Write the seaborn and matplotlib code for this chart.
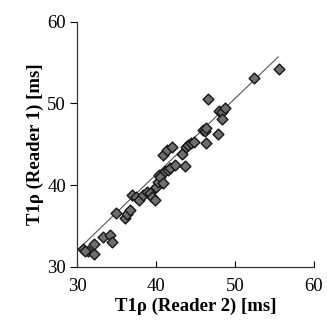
import matplotlib
matplotlib.use("Agg")
import matplotlib.pyplot as plt
import seaborn as sns
import numpy as np
import pandas as pd

# T1rho values [ms]
reader2 = [30.7, 31.4, 32.2, 32.1, 31.0, 33.3, 34.2, 34.4, 34.9, 36.1, 36.3, 36.7,
           37.0, 37.5, 37.8, 38.4, 38.9, 39.2, 39.5, 39.9, 40.0, 40.3, 40.4, 40.5,
           40.9, 41.1, 41.5, 41.8, 42.4, 40.9, 41.4, 42.0, 43.3, 43.7, 43.8, 44.0,
           44.4, 44.8, 46.0, 46.2, 46.3, 46.3, 46.6, 47.8, 48.0, 48.3, 48.4, 48.7,
           52.4, 55.6]
reader1 = [32.2, 31.9, 31.6, 32.8, 32.0, 33.6, 33.9, 33.0, 36.6, 36.0, 36.5, 36.9,
           38.8, 38.5, 38.2, 38.8, 39.2, 39.0, 38.6, 38.2, 39.8, 40.4, 41.3, 41.0,
           40.3, 41.7, 41.9, 42.1, 42.5, 43.7, 44.3, 44.7, 43.8, 42.4, 44.7, 44.9,
           45.1, 45.3, 46.8, 46.6, 47.0, 45.1, 50.5, 46.3, 49.1, 49.0, 48.1, 49.4,
           53.1, 54.2]

# fitted line endpoints
fit_x = [30.0, 55.5]
fit_y = [32.0, 55.7]

df = pd.DataFrame({"r2": reader2, "r1": reader1})

sns.set_style("ticks")
plt.rcParams["font.family"] = ["Liberation Serif", "DejaVu Serif"]
plt.rcParams["text.color"] = "black"
plt.rcParams["axes.labelcolor"] = "black"
plt.rcParams["xtick.color"] = "black"
plt.rcParams["ytick.color"] = "black"

fig = plt.figure(figsize=(3.27, 3.32), dpi=100)
ax = fig.add_axes([0.2355, 0.196, 0.7245, 0.739])

sns.lineplot(x=fit_x, y=fit_y, ax=ax, color="#555555", linewidth=0.8)
sns.scatterplot(data=df, x="r2", y="r1", ax=ax, marker="D", s=30,
                color="#6e6e6e", edgecolor="#151515", linewidth=1.0, zorder=3)

ax.set_xlim(30, 60)
ax.set_ylim(30, 60)
ax.set_xticks([30, 40, 50, 60])
ax.set_yticks([30, 40, 50, 60])
ax.tick_params(axis="x", direction="in", length=4, width=0.8, labelsize=13.5, pad=8)
ax.tick_params(axis="y", direction="out", length=5, width=0.8, labelsize=13.5, pad=3)
ax.set_xlabel("T1ρ (Reader 2) [ms]", fontsize=13.5, fontweight="bold", labelpad=2)
ax.set_ylabel("T1ρ (Reader 1) [ms]", fontsize=13.5, fontweight="bold", labelpad=2)
for s in ["top", "right"]:
    ax.spines[s].set_visible(False)
for s in ["left", "bottom"]:
    ax.spines[s].set_color("#333333")
    ax.spines[s].set_linewidth(0.9)

fig.savefig("out.png", dpi=100)
